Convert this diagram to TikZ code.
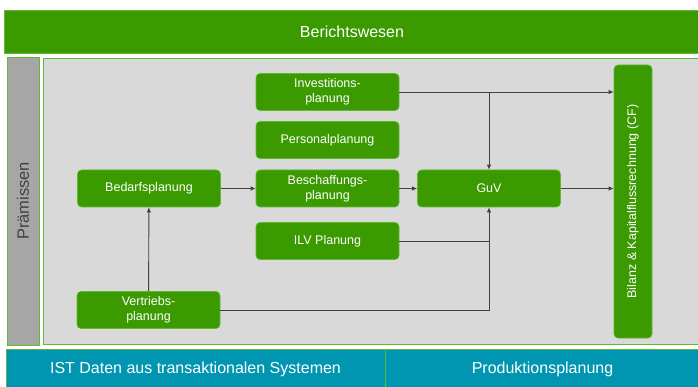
\documentclass[tikz,border=0pt]{standalone}
\usepackage{fontspec}
\setmainfont{Liberation Sans}
\usepackage{xcolor}
\usepackage{tikz}
\usetikzlibrary{arrows.meta, positioning}
\definecolor{plangreen}{RGB}{58, 154, 0}
\definecolor{planedge}{RGB}{96, 184, 52}
\definecolor{planteal}{RGB}{0, 150, 178}
\definecolor{areagray}{RGB}{217, 217, 217}
\definecolor{sidegray}{RGB}{166, 166, 166}
\definecolor{linegray}{RGB}{64, 64, 64}

\begin{document}
\begin{tikzpicture}[
  x=1pt, y=-1pt,
  band/.style={draw=planedge, line width=0.8pt, inner sep=0pt, text=white,
    font=\fontsize{16}{19}\selectfont},
  plan/.style={rectangle, rounded corners=4pt, draw=planedge, line width=0.6pt,
    fill=plangreen, text=white, align=center, inner sep=0pt,
    minimum width=143pt, minimum height=37pt, font=\fontsize{12.5}{15}\selectfont},
  arrow/.style={-{Latex[length=5pt, width=4.5pt]}, line width=0.9pt, linegray},
  link/.style={line width=0.9pt, linegray}
]
\useasboundingbox (0,0) rectangle (698,387);

% Frame: reporting on top, actual data at the bottom
\node[band, fill=plangreen, minimum width=696pt, minimum height=43pt] (bericht) at (352, 31.5) {Berichtswesen};
\node[band, fill=sidegray, minimum width=32pt, minimum height=288pt] (praem) at (23, 201) {};
\node[rotate=90, text=linegray, font=\fontsize{16.5}{19}\selectfont] (praemtext) at (praem.center) {Prämissen};
\node[band, fill=areagray, minimum width=657pt, minimum height=286pt] (area) at (371.5, 201) {};
\node[band, fill=planteal, minimum width=379pt, minimum height=41pt] (istdaten) at (195.5, 369.5) {IST Daten aus transaktionalen Systemen};
\node[band, fill=planteal, minimum width=315pt, minimum height=41pt] (produktion) at (542.5, 369.5) {Produktionsplanung};

% Planning blocks
\node[plan] (invest)   at (327.5, 92)    {Investitions-\\planung};
\node[plan] (personal) at (327.5, 140)   {Personalplanung};
\node[plan] (bedarf)   at (149, 188.5)   {Bedarfsplanung};
\node[plan] (beschaff) at (327.5, 188.5) {Beschaffungs-\\planung};
\node[plan] (guv)      at (489, 188.5)   {GuV};
\node[plan] (ilv)      at (327.5, 241)   {ILV Planung};
\node[plan] (vertrieb) at (148.5, 310)   {Vertriebs-\\planung};
\node[plan, minimum width=38pt, minimum height=273pt] (bilanz) at (633, 201.5) {};
\node[rotate=90, text=white, font=\fontsize{12.5}{15}\selectfont] (bilanztext) at (bilanz.center) {Bilanz \& Kapitalflussrechnung (CF)};

% Flows
\coordinate (split) at (invest.east -| guv.north);
\draw[arrow] (invest.east) -- (invest.east -| bilanz.west);
\draw[arrow] (split) -- (guv.north);
\draw[arrow] (bedarf) -- (beschaff);
\draw[arrow] (beschaff) -- (guv);
\draw[arrow] (guv.east) -- (guv.east -| bilanz.west);
\draw[link] (ilv.east) -- (ilv.east -| guv.south);
\draw[arrow] (vertrieb.east) -- (vertrieb.east -| guv.south) -- (guv.south);
\draw[arrow] (vertrieb) -- (bedarf);

\end{tikzpicture}
\end{document}
